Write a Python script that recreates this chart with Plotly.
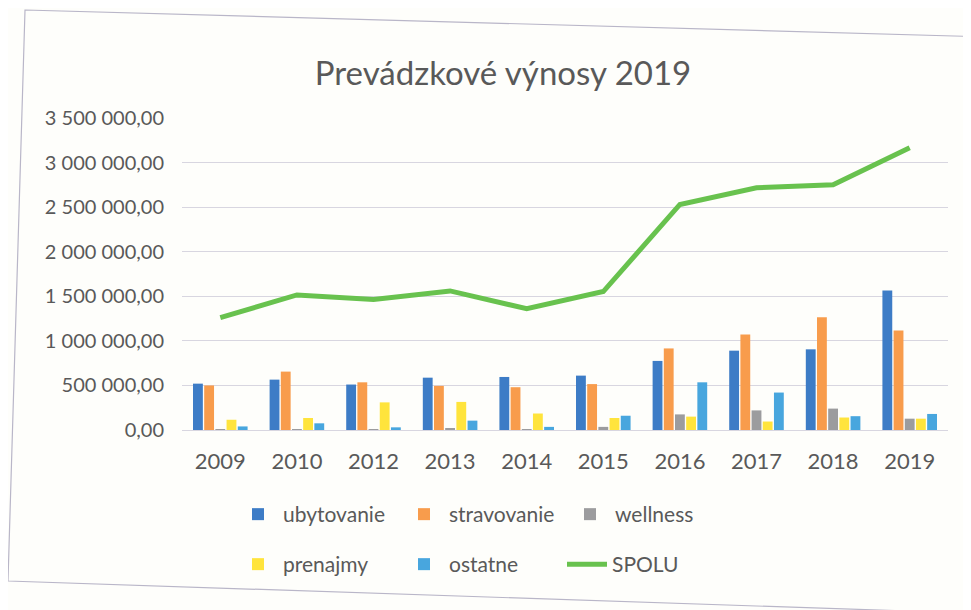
import plotly.graph_objects as go

years = ["2009", "2010", "2012", "2013", "2014", "2015", "2016", "2017", "2018", "2019"]
ubytovanie = [520000, 565000, 510000, 587000, 595000, 610000, 775000, 890000, 905000, 1565000]
stravovanie = [500000, 655000, 535000, 495000, 480000, 515000, 915000, 1070000, 1265000, 1115000]
wellness = [10000, 5000, 10000, 20000, 8000, 35000, 175000, 220000, 240000, 127000]
prenajmy = [115000, 135000, 310000, 315000, 185000, 135000, 150000, 95000, 140000, 127000]
ostatne = [40000, 75000, 30000, 105000, 35000, 160000, 535000, 420000, 155000, 180000]
spolu = [1260000, 1515000, 1465000, 1560000, 1360000, 1553000, 2530000, 2717000, 2750000, 3167000]
y_ticks = [0, 500000, 1000000, 1500000, 2000000, 2500000, 3000000, 3500000]

colors = {
    "ubytovanie": "#3D7CC6",
    "stravovanie": "#F89C4C",
    "wellness": "#9C9C9E",
    "prenajmy": "#FFE43C",
    "ostatne": "#48A6DE",
    "SPOLU": "#68C24E",
}

OFF = 8  # default page body margin
W, H = 971 - OFF, 610 - OFF
# plot area in screen pixels
SL, SR, ST, SB = 182, 948, 118, 430
L, T = SL - OFF, ST - OFF
R = W - (SR - OFF)
B = H - (SB - OFF)
pw, ph = W - L - R, H - T - B

def px(x):
    return (x - OFF - L) / pw

def py(y):
    return (H - B - (y - OFF)) / ph

fig = go.Figure()
for name, vals, lg in [("ubytovanie", ubytovanie, "legend"),
                       ("stravovanie", stravovanie, "legend"),
                       ("wellness", wellness, "legend"),
                       ("prenajmy", prenajmy, "legend2"),
                       ("ostatne", ostatne, "legend2")]:
    fig.add_trace(go.Bar(x=years, y=vals, name=name, marker_color=colors[name],
                         marker_line_width=0, legend=lg))
fig.add_trace(go.Scatter(x=years, y=spolu, name="SPOLU", mode="lines",
                         line=dict(color=colors["SPOLU"], width=5), legend="legend3"))

font_col = "#595959"
fam = "Lato, 'Open Sans', sans-serif"
legend_common = dict(orientation="h", xanchor="left", yanchor="top",
                     font=dict(family=fam, size=21, color=font_col),
                     entrywidth=111, bgcolor="rgba(0,0,0,0)", itemwidth=40)

# chart border (photographed, slightly skewed)
border = "M {},{} L {},{} L {},{} L {},{} Z".format(
    px(25), py(10), px(990), py(37), px(967), py(613), px(8), py(581))

fig.update_layout(
    width=W, height=H,
    margin=dict(l=L, r=R, t=T, b=B),
    paper_bgcolor="#fefefb", plot_bgcolor="rgba(0,0,0,0)",
    separators=", ",
    title=dict(text="Prevádzkové výnosy 2019", x=(503 - OFF) / W, xanchor="center",
               y=1 - (73 - OFF) / H, yanchor="middle",
               font=dict(family=fam, size=33, color=font_col)),
    barmode="group", bargap=0.27, bargroupgap=0.12,
    showlegend=True,
    legend=dict(x=px(233), y=py(494), **legend_common),
    legend2=dict(x=px(233), y=py(544), **legend_common),
    legend3=dict(x=px(562), y=py(544), **legend_common),
    xaxis=dict(type="category", showgrid=False, showline=False, zeroline=False,
               tickfont=dict(family=fam, size=22, color=font_col),
               ticklabelstandoff=16),
    yaxis=dict(range=[0, 3500000], tickvals=y_ticks, tickformat=",.2f",
               showgrid=True, gridcolor="#d8d6e0", gridwidth=1,
               zeroline=True, zerolinecolor="#d8d6e0", zerolinewidth=1,
               showline=False,
               tickfont=dict(family=fam, size=20, color=font_col),
               ticklabelstandoff=17),
    shapes=[dict(type="path", path=border, xref="paper", yref="paper",
                 line=dict(color="#b9b6c8", width=1.2), layer="below")],
)

fig.write_html("out.html")
